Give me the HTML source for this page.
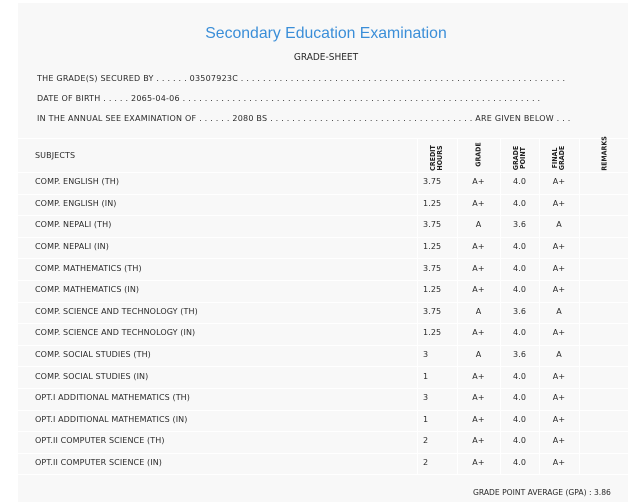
<!DOCTYPE html>
<html><head><style>
body{margin:0;width:641px;height:502px;background:#fff;position:relative;overflow:hidden;font-family:"DejaVu Sans",sans-serif;color:#2a2a2a}
.panel{position:absolute;left:18px;top:3px;width:610px;height:499px;background:#f8f8f8}
.t{position:absolute;white-space:nowrap}
.title{left:0;width:652px;text-align:center;top:25px;font-family:"Liberation Sans",sans-serif;font-size:15.8px;color:#3a8ed8}
.sm{font-size:8px;letter-spacing:0.1px}
.info{font-size:8px;letter-spacing:0.23px}
.hl{position:absolute;left:18px;width:610px;height:1px;background:#fff}
.vl{position:absolute;top:138px;width:1px;height:336px;background:#fff}
.rot{position:absolute;transform:rotate(-90deg);transform-origin:center;font-size:7px;font-weight:bold;line-height:7px;text-align:center;white-space:nowrap;font-family:"DejaVu Sans Condensed",sans-serif;color:#222}
</style></head><body>
<div class="panel"></div>
<div class="t title">Secondary Education Examination</div>
<div class="t" style="left:0;width:652px;text-align:center;top:52px;font-size:10px;font-family:'DejaVu Sans Condensed',sans-serif">GRADE-SHEET</div>
<div class="t info" style="left:37px;top:74px">THE GRADE(S) SECURED BY . . . . . . 03507923C . . . . . . . . . . . . . . . . . . . . . . . . . . . . . . . . . . . . . . . . . . . . . . . . . . . . . . . . . . .</div>
<div class="t info" style="left:37px;top:94px">DATE OF BIRTH . . . . . 2065-04-06 . . . . . . . . . . . . . . . . . . . . . . . . . . . . . . . . . . . . . . . . . . . . . . . . . . . . . . . . . . . . . . . . .</div>
<div class="t info" style="left:37px;top:114px">IN THE ANNUAL SEE EXAMINATION OF . . . . . . 2080 BS . . . . . . . . . . . . . . . . . . . . . . . . . . . . . . . . . . . . . ARE GIVEN BELOW . . .</div>
<div class="hl" style="top:138px"></div>
<div class="hl" style="top:172px"></div>
<div class="vl" style="left:417px"></div><div class="vl" style="left:457px"></div><div class="vl" style="left:500px"></div><div class="vl" style="left:539px"></div><div class="vl" style="left:579px"></div>
<div class="t sm" style="left:35px;top:151px">SUBJECTS</div>
<div class="rot" style="left:417px;top:151px;width:40px">CREDIT<br>HOURS</div>
<div class="rot" style="left:459px;top:151px;width:40px">GRADE</div>
<div class="rot" style="left:500px;top:151px;width:40px">GRADE<br>POINT</div>
<div class="rot" style="left:539px;top:151px;width:40px">FINAL<br>GRADE</div>
<div class="rot" style="left:585px;top:150px;width:40px">REMARKS</div>
<div id="rows"></div>
<div class="t sm" style="left:473px;top:488px;font-size:7.6px;letter-spacing:0">GRADE POINT AVERAGE (GPA) : 3.86</div>
<script>
var d=[["COMP. ENGLISH (TH)","3.75","A+","4.0"],["COMP. ENGLISH (IN)","1.25","A+","4.0"],["COMP. NEPALI (TH)","3.75","A","3.6"],["COMP. NEPALI (IN)","1.25","A+","4.0"],["COMP. MATHEMATICS (TH)","3.75","A+","4.0"],["COMP. MATHEMATICS (IN)","1.25","A+","4.0"],["COMP. SCIENCE AND TECHNOLOGY (TH)","3.75","A","3.6"],["COMP. SCIENCE AND TECHNOLOGY (IN)","1.25","A+","4.0"],["COMP. SOCIAL STUDIES (TH)","3","A","3.6"],["COMP. SOCIAL STUDIES (IN)","1","A+","4.0"],["OPT.I ADDITIONAL MATHEMATICS (TH)","3","A+","4.0"],["OPT.I ADDITIONAL MATHEMATICS (IN)","1","A+","4.0"],["OPT.II COMPUTER SCIENCE (TH)","2","A+","4.0"],["OPT.II COMPUTER SCIENCE (IN)","2","A+","4.0"]];
var h="";for(var i=0;i<d.length;i++){var y=172+i*21.6;var ty=y+5.2;
h+='<div class="hl" style="top:'+(y+21.6).toFixed(1)+'px"></div>';
h+='<div class="t sm" style="left:35px;top:'+ty+'px">'+d[i][0]+'</div>';
h+='<div class="t sm" style="left:423px;top:'+ty+'px">'+d[i][1]+'</div>';
h+='<div class="t sm" style="left:457px;width:43px;text-align:center;top:'+ty+'px">'+d[i][2]+'</div>';
h+='<div class="t sm" style="left:500px;width:39px;text-align:center;top:'+ty+'px">'+d[i][3]+'</div>';
h+='<div class="t sm" style="left:539px;width:40px;text-align:center;top:'+ty+'px">'+d[i][2]+'</div>';}
document.getElementById("rows").innerHTML=h;
</script>
</body></html>
